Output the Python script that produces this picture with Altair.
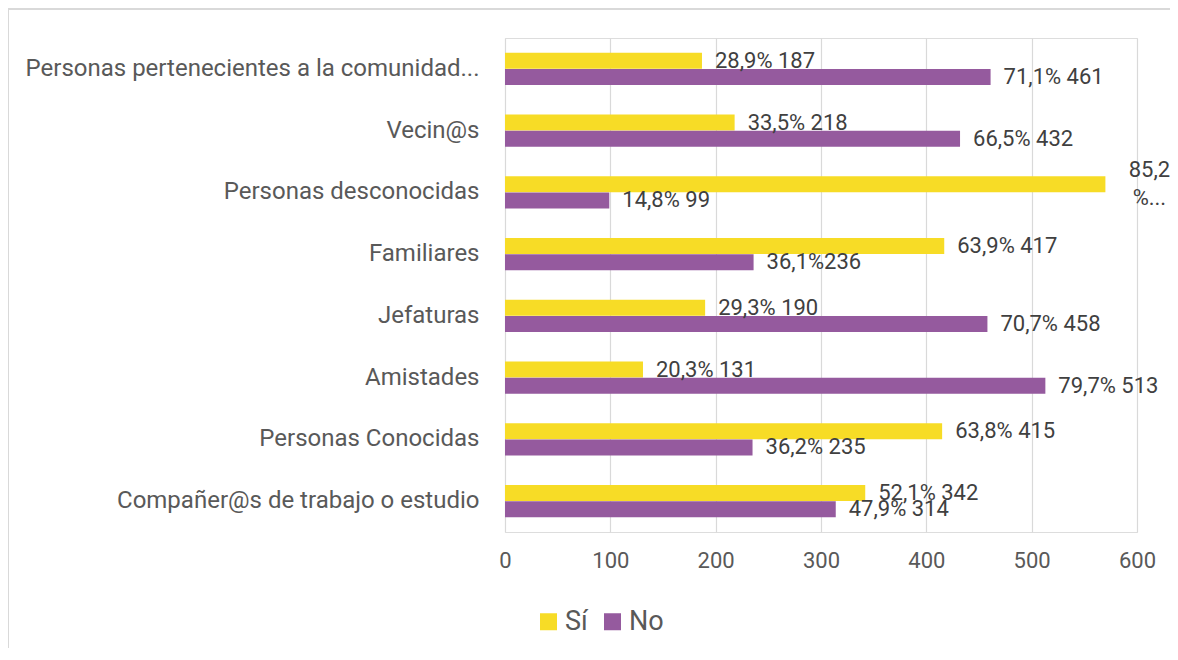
import altair as alt
import pandas as pd

categorias = [
    "Personas pertenecientes a la comunidad...",
    "Vecin@s",
    "Personas desconocidas",
    "Familiares",
    "Jefaturas",
    "Amistades",
    "Personas Conocidas",
    "Compañer@s de trabajo o estudio",
]
si_valores = [187, 218, 570, 417, 190, 131, 415, 342]
no_valores = [461, 432, 99, 236, 458, 513, 235, 314]
si_etiquetas = ["28,9% 187", "33,5% 218", "85,2\n%...", "63,9% 417",
                "29,3% 190", "20,3% 131", "63,8% 415", "52,1% 342"]
no_etiquetas = ["71,1% 461", "66,5% 432", "14,8% 99", "36,1%236",
                "70,7% 458", "79,7% 513", "36,2% 235", "47,9% 314"]
series = ["Sí", "No"]
colores = ["#F7DC26", "#955A9E"]
ticks_x = [0, 100, 200, 300, 400, 500, 600]

FONT = "Roboto"

rows = []
for c, v, e in zip(categorias, si_valores, si_etiquetas):
    rows.append({"categoria": c, "serie": "Sí", "valor": v, "etiqueta": e, "envuelta": "\n" in e})
for c, v, e in zip(categorias, no_valores, no_etiquetas):
    rows.append({"categoria": c, "serie": "No", "valor": v, "etiqueta": e, "envuelta": "\n" in e})
df = pd.DataFrame(rows)

y_enc = alt.Y("categoria:N", sort=categorias,
              scale=alt.Scale(paddingInner=0.48, paddingOuter=0.24),
              axis=alt.Axis(title=None, ticks=False, domain=False, labelFontSize=24,
                            labelPadding=26, labelColor="#595959", labelFont=FONT,
                            labelLimit=600))
yoff_enc = alt.YOffset("serie:N", sort=series)
x_enc = alt.X("valor:Q", scale=alt.Scale(domain=[0, 600], nice=False),
              axis=alt.Axis(title=None, values=ticks_x, ticks=False, domain=False,
                            gridColor="#D9D9D9", gridWidth=1.2, labelFontSize=22,
                            labelColor="#595959", labelFont=FONT, labelPadding=18,
                            labelFlush=False))

base = alt.Chart(df)

bars = base.mark_bar(size=16).encode(
    x=x_enc,
    y=y_enc,
    yOffset=yoff_enc,
    color=alt.Color("serie:N", sort=series,
                    scale=alt.Scale(domain=series, range=colores),
                    legend=alt.Legend(title=None, orient="none", legendX=30, legendY=570,
                                      direction="horizontal", symbolType="square",
                                      symbolSize=289, symbolStrokeWidth=0,
                                      labelFontSize=27, labelFont=FONT,
                                      labelColor="#595959", labelOffset=3,
                                      columnPadding=11, padding=0)),
)

labels = base.transform_filter("!datum.envuelta").mark_text(
    align="left", baseline="middle", dx=13, fontSize=22, font=FONT, color="#404040"
).encode(
    x="valor:Q", y=alt.Y("categoria:N", sort=categorias), yOffset=yoff_enc,
    text="etiqueta:N",
)

wrapped = base.transform_filter("datum.envuelta").mark_text(
    align="center", baseline="middle", dx=44, dy=-14, fontSize=22, font=FONT,
    color="#404040", lineBreak="\n", lineHeight=28
).encode(
    x="valor:Q", y=alt.Y("categoria:N", sort=categorias), yOffset=yoff_enc,
    text="etiqueta:N",
)

frame_df = pd.DataFrame({"k": [0]})
frame_left = alt.Chart(frame_df).mark_rule(color="#D9D9D9", strokeWidth=2).encode(
    x=alt.value(-497), y=alt.value(-29), y2=alt.value(700))
frame_top = alt.Chart(frame_df).mark_rule(color="#D9D9D9", strokeWidth=2).encode(
    x=alt.value(-497), x2=alt.value(800), y=alt.value(-29))

chart = alt.layer(bars, labels, wrapped, frame_left, frame_top).properties(
    width=632, height=494,
    autosize=alt.AutoSizeParams(type="none"),
    padding={"left": 497, "top": 30, "right": 33, "bottom": 116},
).configure_view(stroke=None).configure(background="white")

chart.save("out.html", embed_options={"renderer": "svg", "actions": False})
